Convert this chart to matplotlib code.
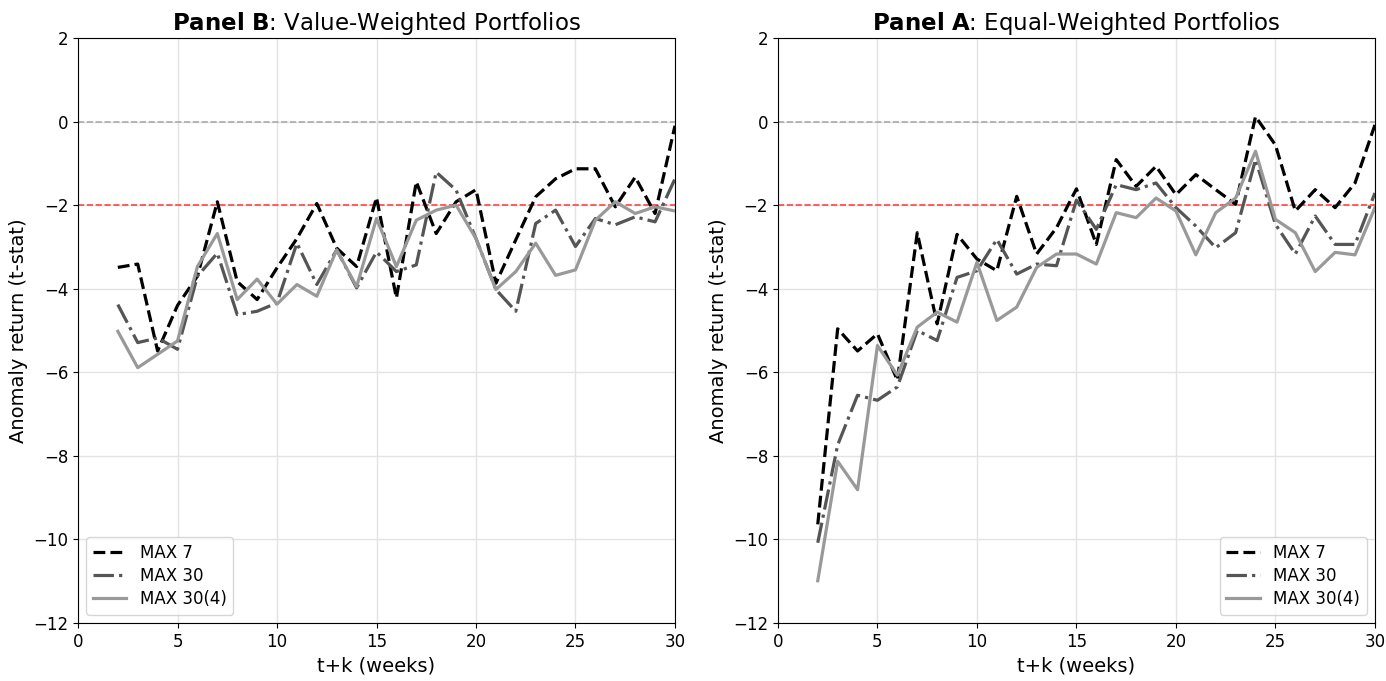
import numpy as np
import matplotlib.pyplot as plt

weeks = list(range(2, 31))

# Panel B: value-weighted
vw_max7 = [-3.49, -3.41, -5.49, -4.4, -3.7, -1.92, -3.83, -4.26, -3.5, -2.8,
           -1.96, -3.03, -3.47, -1.82, -4.22, -1.44, -2.68, -1.92, -1.63, -3.87,
           -2.83, -1.8, -1.37, -1.13, -1.13, -2.04, -1.33, -2.2, -0.1]
vw_max30 = [-4.38, -5.29, -5.18, -5.45, -3.7, -3.15, -4.62, -4.54, -4.34, -2.91,
            -3.9, -3.07, -3.98, -3.12, -3.59, -3.43, -1.21, -1.64, -2.8, -4.02,
            -4.54, -2.44, -2.12, -2.99, -2.32, -2.47, -2.28, -2.4, -1.37]
vw_max30_4 = [-5.02, -5.89, -5.57, -5.25, -3.47, -2.68, -4.26, -3.77, -4.37, -3.9,
              -4.18, -3.07, -3.95, -2.32, -3.47, -2.36, -2.12, -2.0, -2.8, -4.02,
              -3.59, -2.91, -3.68, -3.55, -2.36, -1.92, -2.2, -2.04, -2.14]

# Panel A: equal-weighted
ew_max7 = [-9.64, -4.96, -5.49, -5.08, -6.19, -2.66, -4.84, -2.70, -3.29, -3.57,
           -1.79, -3.17, -2.54, -1.61, -2.94, -0.91, -1.55, -1.07, -1.75, -1.27,
           -1.63, -1.98, 0.12, -0.56, -2.14, -1.63, -2.06, -1.47, -0.08]
ew_max30 = [-10.08, -7.74, -6.55, -6.67, -6.35, -5.0, -5.24, -3.73, -3.57, -2.82,
            -3.65, -3.41, -3.45, -1.88, -2.58, -1.51, -1.63, -1.47, -2.06, -2.5,
            -3.02, -2.66, -0.91, -2.46, -3.17, -2.26, -2.94, -2.94, -1.71]
ew_max30_4 = [-10.99, -8.13, -8.81, -5.36, -6.07, -4.92, -4.56, -4.8, -3.37, -4.76,
              -4.44, -3.49, -3.17, -3.17, -3.41, -2.18, -2.30, -1.83, -2.14, -3.19,
              -2.18, -1.83, -0.71, -2.34, -2.66, -3.59, -3.13, -3.19, -2.06]

labels = ['MAX 7', 'MAX 30', 'MAX 30(4)']
panels = [
    (r'$\bf{Panel\ B}$: Value-Weighted Portfolios', [vw_max7, vw_max30, vw_max30_4], 'lower left'),
    (r'$\bf{Panel\ A}$: Equal-Weighted Portfolios', [ew_max7, ew_max30, ew_max30_4], 'lower right'),
]
styles = [dict(color='black', ls='--'),
          dict(color='#555555', ls='-.'),
          dict(color='#999999', ls='-')]

fig = plt.figure(figsize=(13.86, 6.81), dpi=100)
ax_left = fig.add_axes([0.0563, 0.0852, 0.4307, 0.8590])
ax_right = fig.add_axes([0.5613, 0.0852, 0.4307, 0.8590])

for ax, (title, series, loc) in zip([ax_left, ax_right], panels):
    ax.axhline(0, color='#aaaaaa', ls='--', lw=1.2, zorder=1)
    ax.axhline(-2, color='#ff4444', ls='--', lw=1.2, zorder=1)
    for vals, lab, st in zip(series, labels, styles):
        ax.plot(weeks, vals, lw=2.3, label=lab, zorder=3, **st)
    ax.set_xlim(0, 30)
    ax.set_ylim(-12, 2)
    ax.set_xticks(np.arange(0, 31, 5))
    ax.set_yticks(np.arange(-12, 3, 2))
    ax.grid(True, color='#e3e3e3', lw=1)
    ax.set_axisbelow(True)
    ax.set_title(title, fontsize=16.5)
    ax.set_xlabel('t+k (weeks)', fontsize=14)
    ax.set_ylabel('Anomaly return (t-stat)', fontsize=14)
    ax.tick_params(labelsize=12)
    ax.legend(loc=loc, fontsize=12, labelspacing=0.3)

fig.savefig('out.png', dpi=100)
